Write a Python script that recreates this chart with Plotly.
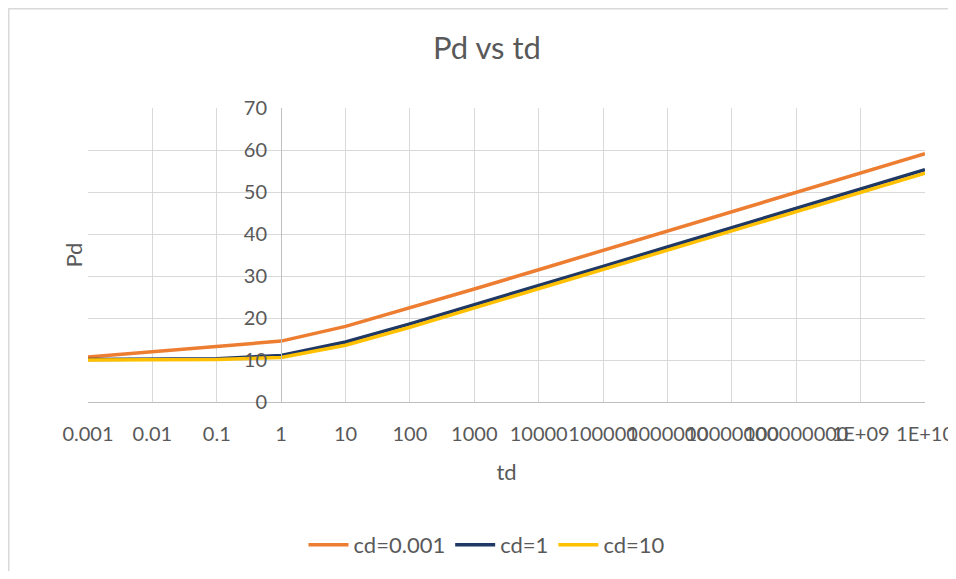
import plotly.graph_objects as go

td = [0.001, 0.01, 0.1, 1, 10, 100, 1000, 1e4, 1e5, 1e6, 1e7, 1e8, 1e9, 1e10]
td_labels = ["0.001", "0.01", "0.1", "1", "10", "100", "1000", "10000", "100000",
             "1000000", "10000000", "100000000", "1E+09", "1E+10"]
pd_cd_0001 = [10.7, 11.9, 13.1, 14.5, 18.0, 22.4, 26.9, 31.5, 36.1, 40.7, 45.3, 49.9, 54.5, 59.1]
pd_cd_1 = [10.1, 10.1, 10.3, 11.1, 14.3, 18.6, 23.1, 27.7, 32.3, 36.9, 41.5, 46.1, 50.7, 55.3]
pd_cd_10 = [10.0, 10.0, 10.1, 10.6, 13.5, 17.8, 22.4, 26.9, 31.5, 36.1, 40.7, 45.3, 49.9, 54.5]
series_names = ["cd=0.001", "cd=1", "cd=10"]
series_colors = ["#ED7D31", "#203864", "#FFC000"]
y_ticks = [0, 10, 20, 30, 40, 50, 60, 70]

FONT = "Lato"
GRAY = "#595959"

fig = go.Figure()
for name, vals, col in zip(series_names, [pd_cd_0001, pd_cd_1, pd_cd_10], series_colors):
    fig.add_trace(go.Scatter(x=td, y=vals, mode="lines", name=name,
                             line=dict(color=col, width=3.5)))

# page has an 8px body margin; figure coordinates = page coordinates - 8
OFF = 8
W, H = 956 - OFF, 579 - 2 * OFF
L, R, T, B = 88 - OFF, 925 - OFF, 108 - OFF, 402 - OFF
pw, ph = R - L, B - T

def px2paper_x(px):
    return (px - OFF - L) / pw

def px2paper_y(py):
    return (B - (py - OFF)) / ph

fig.update_layout(
    width=W, height=H,
    margin=dict(l=L, r=W - R, t=T, b=H - B, autoexpand=False),
    paper_bgcolor="white", plot_bgcolor="white",
    font=dict(family=FONT, color=GRAY, size=20),
    title=dict(text="Pd vs td", x=(487 - OFF) / W, xanchor="center",
               y=1 - (48 - OFF) / H, yanchor="middle",
               font=dict(family=FONT, size=31, color=GRAY)),
    showlegend=True,
    legend=dict(orientation="h", x=px2paper_x(487), xanchor="center",
                y=px2paper_y(545), yanchor="middle",
                font=dict(family=FONT, size=22, color=GRAY),
                itemwidth=40, tracegroupgap=0, bgcolor="rgba(0,0,0,0)"),
    xaxis=dict(type="log", range=[-3, 10], tickmode="array", tickvals=td, ticktext=td_labels,
               tickangle=0, automargin=False, ticklabeloverflow="allow",
               showgrid=True, gridcolor="#d9d9d9", gridwidth=1,
               showline=True, linecolor="#bfbfbf", linewidth=1,
               ticks="", ticklabelstandoff=14,
               tickfont=dict(family=FONT, size=20, color=GRAY),
               title=dict(text="td", standoff=20, font=dict(family=FONT, size=22, color=GRAY)),
               zeroline=False),
    yaxis=dict(range=[0, 70], tickmode="array", tickvals=y_ticks,
               anchor="free", position=px2paper_x(281), automargin=False,
               showgrid=True, gridcolor="#d9d9d9", gridwidth=1,
               showline=True, linecolor="#bfbfbf", linewidth=1,
               ticks="", ticklabelstandoff=10,
               tickfont=dict(family=FONT, size=20, color=GRAY),
               zeroline=False),
    annotations=[dict(text="Pd", x=px2paper_x(57), y=0.5, xref="paper", yref="paper",
                      textangle=-90, showarrow=False,
                      font=dict(family=FONT, size=22, color=GRAY))],
    shapes=[
        dict(type="line", xref="paper", yref="paper",
             x0=px2paper_x(OFF + 0.75), x1=px2paper_x(OFF + 0.75),
             y0=px2paper_y(OFF), y1=px2paper_y(OFF + H),
             line=dict(color="#d9d9d9", width=1.5)),
        dict(type="line", xref="paper", yref="paper",
             x0=px2paper_x(OFF), x1=px2paper_x(OFF + W),
             y0=px2paper_y(OFF + 0.75), y1=px2paper_y(OFF + 0.75),
             line=dict(color="#d9d9d9", width=1.5)),
    ],
)

fig.write_html("out.html")
